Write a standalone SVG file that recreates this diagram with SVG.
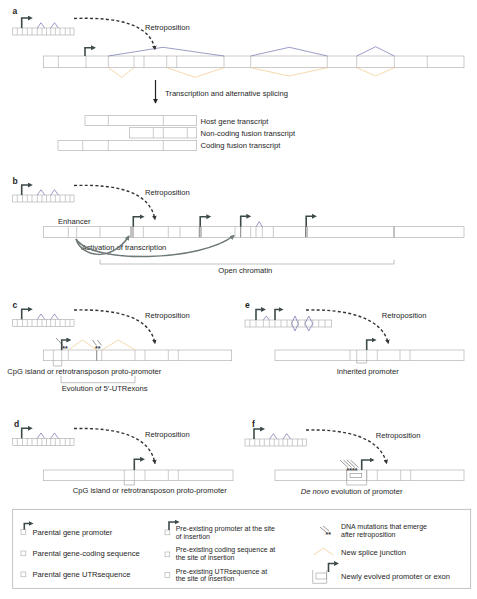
<svg xmlns="http://www.w3.org/2000/svg" xmlns:xlink="http://www.w3.org/1999/xlink" width="477" height="599" viewBox="0 0 477 599">
<style>
text{font-family:"Liberation Sans",Arial,sans-serif;font-size:7.6px;fill:#1e1e1e}
.lbl{font-weight:bold;font-size:8.5px}
.sm{font-size:7px}
.strip{fill:#fff;stroke:#a9a9a9;stroke-width:0.6}
.dv{stroke:#a9a9a9;stroke-width:0.6;fill:none}
.dk{stroke:#777;stroke-width:0.9;fill:none}
.prom{fill:none;stroke:#3d4a4a;stroke-width:1.6;marker-end:url(#ph)}
.retro{fill:none;stroke:#333;stroke-width:1.4;stroke-dasharray:3 2.3;marker-end:url(#rh)}
.blue{fill:none;stroke:#7072b0;stroke-width:0.7}
.orange{fill:none;stroke:#f3cf98;stroke-width:0.8}
.brk{fill:none;stroke:#999;stroke-width:0.6}
.act{fill:none;stroke:#6d7878;stroke-width:1.5;marker-end:url(#ah)}
.mut{stroke:#333;stroke-width:0.5;fill:none}
.star{font-size:7px;font-weight:bold;fill:#333}
</style>
<defs>
<marker id="ph" markerUnits="userSpaceOnUse" viewBox="0 0 6 6" refX="0.5" refY="3" markerWidth="5" markerHeight="5" orient="auto"><path d="M0,0 L6,3 L0,6 z" fill="#3d4a4a"/></marker>
<marker id="rh" markerUnits="userSpaceOnUse" viewBox="0 0 6 6" refX="5" refY="3" markerWidth="4.5" markerHeight="4.5" orient="auto"><path d="M0,0 L6,3 L0,6 z" fill="#333"/></marker>
<marker id="ah" markerUnits="userSpaceOnUse" viewBox="0 0 6 6" refX="5" refY="3" markerWidth="5" markerHeight="5" orient="auto"><path d="M0,0 L6,3 L0,6 z" fill="#6d7878"/></marker>
<marker id="dh" markerUnits="userSpaceOnUse" viewBox="0 0 6 6" refX="5" refY="3" markerWidth="5" markerHeight="5" orient="auto"><path d="M0,0 L6,3 L0,6 z" fill="#222"/></marker>
<g id="par">
<rect class="strip" x="0" y="0" width="61.3" height="7"/>
<path class="dv" d="M4.6,0v7M9.8,0v7M14.6,0v7M19.3,0v7M24.6,0v7M29.3,0v7M33.8,0v7M38,0v7M42.6,0v7M47.3,0v7M52.6,0v7M57.3,0v7"/>
<path class="blue" d="M24.6,0 L28.3,-5.3 L32,0 M38,0 L41.8,-5.3 L45.6,0"/>
<path class="prom" d="M9,0 V-10 H15.5"/>
</g>
</defs>

<!-- Panel a -->
<g id="panel-a">
<text class="lbl" x="12.5" y="14">a</text>
<use xlink:href="#par" x="12.7" y="28"/>
<g id="a-host">
<rect class="strip" x="43.3" y="56" width="420.7" height="11.7"/>
<path class="dv" d="M58.3,56v11.7M86,56v11.7M108.3,56v11.7M134,56v11.7M144,56v11.7M166.7,56v11.7M176.7,56v11.7M224,56v11.7M250.7,56v11.7M327.3,56v11.7M356.7,56v11.7M394.3,56v11.7M427.3,56v11.7"/>
<path class="blue" d="M108.3,56 L163,47.3 L224,56 M250.7,56 L289.3,47.3 L327.3,56 M356.7,56 L375.7,46.7 L394.3,56"/>
<path class="orange" d="M108.3,67.7 L121.7,77.3 L134,67.7 M166.7,67.7 L195,77.3 L224,67.7 M250.7,67.7 L289,76 L327.3,67.7 M356.7,67.7 L375.7,76 L394.3,67.7"/>
<path class="prom" d="M85,56 V47.7 H91.5"/>
</g>
<text x="145" y="29.5">Retroposition</text>
<text x="165" y="96">Transcription and alternative splicing</text>
<g id="t-host">
<rect class="strip" x="85" y="115.7" width="111.7" height="9.8"/>
<path class="dv" d="M108.3,115.7v9.8M163.3,115.7v9.8"/>
<text x="200.5" y="123.6">Host gene transcript</text>
</g>
<g id="t-noncoding">
<rect class="strip" x="129.3" y="127.7" width="67.4" height="10.3"/>
<path class="dv" d="M153.3,127.7v10.3M163.3,127.7v10.3M187.3,127.7v10.3"/>
<text x="200.5" y="135.6">Non-coding fusion transcript</text>
</g>
<g id="t-coding">
<rect class="strip" x="58" y="140.3" width="138.7" height="10.3"/>
<path class="dv" d="M82.7,140.3v10.3M108.3,140.3v10.3M163.3,140.3v10.3"/>
<text x="200.5" y="148.3">Coding fusion transcript</text>
</g>
</g>

<!-- Panel b -->
<g id="panel-b">
<text class="lbl" x="12.5" y="184">b</text>
<use xlink:href="#par" x="12.7" y="195"/>
<g id="b-host">
<rect class="strip" x="43.3" y="226.7" width="420.7" height="10.6"/>
<path class="dv" d="M68.3,226.7v10.6M76.7,226.7v10.6M100,226.7v10.6M143.3,226.7v10.6M168.3,226.7v10.6M180,226.7v10.6M235,226.7v10.6M250.7,226.7v10.6M256,226.7v10.6M262.3,226.7v10.6M273.3,226.7v10.6"/>
<path class="dk" d="M131,226.7v10.6M133,226.7v10.6M199.3,226.7v10.6M201,226.7v10.6M240.7,226.7v10.6M305.5,226.7v10.6M307,226.7v10.6M394,226.7v10.6"/>
<path class="blue" d="M256,226.7 L259.2,221.7 L262.3,226.7"/>
<path class="prom" d="M133.3,226.7 V216.7 H140"/>
<path class="prom" d="M200.2,226.7 V216.7 H206.7"/>
<path class="prom" d="M240.7,226.7 V216.3 H246.7"/>
<path class="prom" d="M306.2,226.7 V216.3 H312.3"/>
</g>
<text x="145" y="195">Retroposition</text>
<text x="58" y="224">Enhancer</text>
<text x="81.5" y="250">Activation of transcription</text>
<path class="brk" d="M100,259.5 V264 H394 V259.5"/>
<text x="218.3" y="272.5">Open chromatin</text>
</g>

<!-- Panel c -->
<g id="panel-c">
<text class="lbl" x="12.5" y="308">c</text>
<use xlink:href="#par" x="12.7" y="319.3"/>
<g id="c-host">
<rect class="strip" x="43.3" y="350" width="188.4" height="10.7"/>
<path class="dv" d="M53.3,350v10.7M61.7,350v10.7M68.3,350v10.7M101.7,350v10.7M135,350v10.7M145,350v10.7M168.3,350v10.7M178.3,350v10.7"/>
<path class="dk" d="M96.7,350v10.7"/>
<path class="orange" d="M68.3,350 L82.5,340 L96.7,350 M101.7,350 L118.3,340 L135,350"/>
<path class="prom" d="M61.7,350 V340 H66.7"/>
<path class="mut" d="M56,338 L63,345.5 M92.5,340 L96.5,345.5 M97.5,340 L101.5,345.5"/>
<text class="star" x="62.3" y="350.5">**</text>
<text class="star" x="95" y="350.5">**</text>
</g>
<path class="brk" d="M53.3,360.7 V366 H61.7 V360.7"/>
<text x="7.3" y="373.7">CpG island or retrotransposon proto-promoter</text>
<path class="brk" d="M61,376 V382.7 H135 V376"/>
<text x="61.7" y="391">Evolution of 5′-UTRexons</text>
<text x="145" y="318">Retroposition</text>
</g>

<!-- Panel e -->
<g id="panel-e">
<text class="lbl" x="245" y="308">e</text>
<g id="e-parental">
<rect class="strip" x="245" y="320" width="86.7" height="7"/>
<path class="dv" d="M250,320v7M256,320v7M263.3,320v7M269.3,320v7M275,320v7M281,320v7M287,320v7M291.7,320v7M298.3,320v7M305,320v7M312.7,320v7M318.7,320v7M325,320v7"/>
<path class="blue" d="M263.3,320 L266.3,316 L269.3,320 M291.7,323.5 L295,316 L298.3,323.5 L295,331 Z M305,323.5 L308.8,316 L312.7,323.5 L308.8,331 Z"/>
<path class="prom" d="M256,320 V309.5 H261.5"/>
<path class="prom" d="M275,320 V309.5 H279"/>
</g>
<g id="e-host">
<rect class="strip" x="275" y="350" width="189" height="10.7"/>
<path class="dv" d="M350,350v10.7M356.7,350v10.7M366.7,350v10.7M377.3,350v10.7M400,350v10.7M410,350v10.7"/>
<path class="prom" d="M366.7,350 V340 H372"/>
</g>
<path class="brk" d="M356.7,360.7 V363 H366.7 V360.7"/>
<text x="336.7" y="374.3">Inherited promoter</text>
<text x="381.7" y="318">Retroposition</text>
</g>

<!-- Panel d -->
<g id="panel-d">
<text class="lbl" x="14" y="427">d</text>
<use xlink:href="#par" x="12.7" y="438.3"/>
<g id="d-host">
<rect class="strip" x="43.3" y="470" width="189.7" height="10.7"/>
<path class="dv" d="M124.3,470v10.7M134.3,470v10.7M145,470v10.7M168.3,470v10.7M178.3,470v10.7"/>
<path class="prom" d="M134.3,470 V459.3 H140.5"/>
</g>
<path class="brk" d="M124.3,480.7 V485 H134.3 V480.7"/>
<text x="72.7" y="492.7">CpG island or retrotransposon proto-promoter</text>
<text x="145" y="437">Retroposition</text>
</g>

<!-- Panel f -->
<g id="panel-f">
<text class="lbl" x="252" y="427">f</text>
<use xlink:href="#par" x="245" y="439"/>
<g id="f-host">
<rect class="strip" x="275" y="470" width="189" height="10.7"/>
<path class="dv" d="M346.7,470v10.7M366.7,470v10.7M377.3,470v10.7M400.7,470v10.7M410.7,470v10.7"/>
<path class="brk" d="M346.7,470 V485 H366.7 V470"/>
<rect x="350" y="473.3" width="11.7" height="4" fill="none" stroke="#888" stroke-width="0.6"/>
<path class="prom" d="M361.7,470 V460 H370"/>
<path class="mut" d="M340,460 L348,467.5 M343.5,460 L351.5,467.5 M347,460 L355,467.5 M350.5,460 L358.5,467.5"/>
<text class="star" x="346.5" y="472.5">****</text>
</g>
<text x="300.7" y="494"><tspan font-style="italic">De novo</tspan> evolution  of promoter</text>
<text x="375.7" y="437.5">Retroposition</text>
</g>

<!-- Connectors -->
<g id="connectors">
<path class="retro" d="M74,18.5 C118,17 150,24 155,49.5"/>
<path d="M155.5,80 V103" fill="none" stroke="#222" stroke-width="1.2" marker-end="url(#dh)"/>
<path class="retro" d="M74,185.5 C118,184 150,192 155,219.5"/>
<path class="act" d="M76,239 C82,258 112,262 129,236"/>
<path class="act" d="M76,239 C92,264 200,262 234,235.5"/>
<path class="retro" d="M74,310 C118,309 150,317 155,343.5"/>
<path class="retro" d="M306,310 C346,309 382,317 388.3,343.5"/>
<path class="retro" d="M74,428.5 C118,427.5 150,436 155,463.5"/>
<path class="retro" d="M306,430 C346,429 380,437 386.7,463.5"/>
</g>

<!-- Legend -->
<g id="legend">
<rect x="12.7" y="509.3" width="458" height="79" fill="#fff" stroke="#aaa" stroke-width="0.7"/>
<rect class="strip" x="21" y="529.5" width="4.8" height="4.8"/>
<path class="prom" d="M24.3,529.5 V523.5 H29"/>
<text x="32.5" y="534.8">Parental gene promoter</text>
<rect class="strip" x="21" y="551" width="4.8" height="4.8"/>
<text x="32.5" y="555.8">Parental gene-coding sequence</text>
<rect class="strip" x="21" y="572" width="4.8" height="4.8"/>
<text x="32.5" y="576.8">Parental gene UTRsequence</text>

<rect class="strip" x="165" y="530" width="4.8" height="4.8"/>
<path class="prom" d="M169,530 V522 H175"/>
<text class="sm" x="175.7" y="531.3">Pre-existing promoter at the site</text>
<text class="sm" x="175.7" y="539">of insertion</text>
<rect class="strip" x="165" y="552" width="4.8" height="4.8"/>
<text class="sm" x="175.7" y="552">Pre-existing coding sequence at</text>
<text class="sm" x="175.7" y="559.7">the site of insertion</text>
<rect class="strip" x="165" y="572.5" width="4.8" height="4.8"/>
<text class="sm" x="175.7" y="573.7">Pre-existing UTRsequence at</text>
<text class="sm" x="175.7" y="581.4">the site of insertion</text>

<path class="mut" d="M320,527 L326,532 M323,526 L329,531"/>
<text class="star" x="325.5" y="537">**</text>
<text class="sm" x="341" y="529.3">DNA mutations that emerge</text>
<text class="sm" x="341" y="537">after retroposition</text>
<path class="orange" d="M313.3,555 L323.3,548.3 L333.3,555"/>
<text x="341" y="555">New splice junction</text>
<path class="brk" d="M312.7,570 V583.3 H326.7 V570"/>
<rect x="316" y="573" width="10.7" height="6" fill="none" stroke="#999" stroke-width="0.6"/>
<path class="prom" d="M328.5,572 V563.5 H334.5"/>
<text x="341" y="578.5">Newly evolved promoter or exon</text>
</g>
</svg>
